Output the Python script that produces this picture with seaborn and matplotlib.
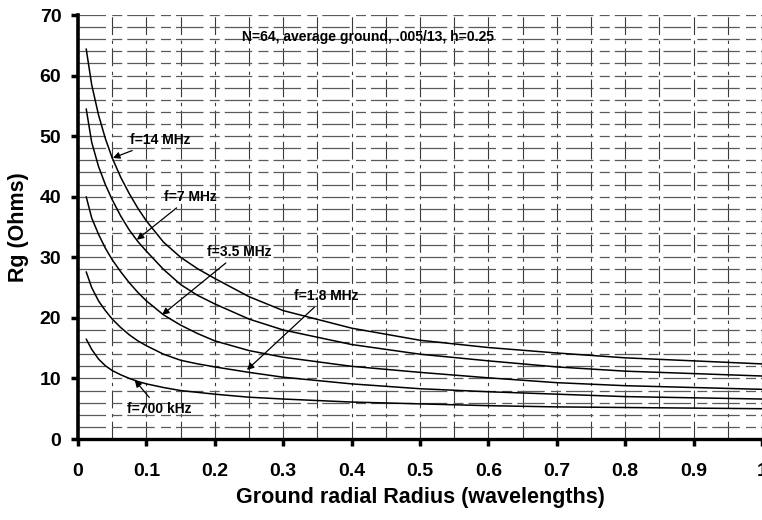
import matplotlib
matplotlib.use("Agg")
import matplotlib.pyplot as plt
import seaborn as sns
import pandas as pd
import numpy as np

# ---- data ----
radius = [0.012, 0.02, 0.03, 0.04, 0.05, 0.0625, 0.075, 0.0875, 0.1, 0.125, 0.15,
          0.175, 0.2, 0.25, 0.3, 0.4, 0.5, 0.6, 0.7, 0.8, 0.9, 1.0]
rg_14mhz = [64.4, 58.5, 53.5, 49.6, 46.4, 43.2, 40.5, 38.1, 36.0, 32.5, 30.0,
            28.1, 26.5, 23.5, 21.2, 18.3, 16.3, 15.1, 14.2, 13.4, 12.9, 12.4]
rg_7mhz = [54.5, 49.0, 45.0, 42.0, 39.5, 36.8, 34.5, 32.6, 31.0, 28.0, 25.5,
           23.7, 22.3, 19.8, 18.0, 15.6, 14.0, 12.9, 11.9, 11.2, 10.8, 10.4]
rg_3_5mhz = [40.0, 36.5, 33.8, 31.5, 29.6, 27.6, 25.8, 24.2, 22.8, 20.5, 18.8,
             17.4, 16.2, 14.6, 13.5, 12.0, 11.0, 10.1, 9.3, 8.8, 8.5, 8.2]
rg_1_8mhz = [27.6, 25.0, 22.8, 21.2, 19.8, 18.4, 17.2, 16.2, 15.4, 14.0, 13.0,
             12.4, 11.9, 11.0, 10.2, 9.1, 8.3, 7.8, 7.4, 7.0, 6.8, 6.6]
rg_700khz = [16.5, 14.8, 13.2, 12.1, 11.3, 10.6, 10.0, 9.5, 9.1, 8.5, 8.0,
             7.7, 7.4, 6.9, 6.6, 6.1, 5.8, 5.5, 5.3, 5.2, 5.1, 5.0]

series_names = ["f=14 MHz", "f=7 MHz", "f=3.5 MHz", "f=1.8 MHz", "f=700 kHz"]
series_values = [rg_14mhz, rg_7mhz, rg_3_5mhz, rg_1_8mhz, rg_700khz]

x_ticks = [0, 0.1, 0.2, 0.3, 0.4, 0.5, 0.6, 0.7, 0.8, 0.9, 1]
x_tick_labels = ["0", "0.1", "0.2", "0.3", "0.4", "0.5", "0.6", "0.7", "0.8", "0.9", "1"]
y_ticks = [0, 10, 20, 30, 40, 50, 60, 70]

title_text = "N=64, average ground, .005/13, h=0.25"
x_label = "Ground radial Radius (wavelengths)"
y_label = "Rg (Ohms)"

# annotation arrow tips and text anchors
ann_tip_x = [0.051, 0.086, 0.123, 0.247, 0.083]
ann_tip_y = [46.4, 32.9, 20.5, 11.4, 9.7]
ann_txt_x = [0.076, 0.126, 0.189, 0.316, 0.071]
ann_txt_y = [49.4, 40.0, 30.9, 23.6, 5.0]

rows = []
for name, vals in zip(series_names, series_values):
    for xv, yv in zip(radius, vals):
        rows.append({"radius": xv, "rg": yv, "series": name})
df = pd.DataFrame(rows)

sns.set_theme(style="white")
plt.rcParams["font.family"] = ["Liberation Sans", "DejaVu Sans"]
plt.rcParams["font.weight"] = "bold"

fig = plt.figure(figsize=(7.62, 5.20), dpi=100)
ax = fig.add_axes([78 / 762, 81 / 520, 684 / 762, 424 / 520])

# scanned-look grid
for gx in np.arange(0.05, 1.0001, 0.05):
    ax.axvline(gx, color="#3a3a3a", lw=0.8, ls=(0, (16, 4, 3, 5)), zorder=0.5)
for gy in np.arange(2, 70.01, 2):
    ax.axhline(gy, color="#5a5a5a", lw=0.9, ls=(0, (22, 5, 8, 4)), zorder=0.5)

sns.lineplot(data=df, x="radius", y="rg", hue="series", ax=ax,
             palette=["black"] * 5, legend=False, lw=1.1, zorder=3)

for name, tx, ty, sx, sy in zip(series_names, ann_tip_x, ann_tip_y, ann_txt_x, ann_txt_y):
    ax.annotate(name, xy=(tx, ty), xytext=(sx, sy), fontsize=10, fontweight="bold",
                ha="left", va="center", color="black", zorder=4,
                arrowprops=dict(arrowstyle="-|>", color="black", lw=0.9,
                                shrinkA=1, shrinkB=0, mutation_scale=10))

ax.text(0.424, 66.4, title_text, fontsize=10, fontweight="bold", ha="center",
        va="center", color="black")

ax.set_xlim(0, 1)
ax.set_ylim(0, 70)
ax.set_xticks(x_ticks)
ax.set_xticklabels(x_tick_labels)
ax.set_yticks(y_ticks)
ax.tick_params(axis="x", direction="out", length=5, width=2.5, pad=12,
               labelsize=14, colors="black", bottom=True)
ax.tick_params(axis="y", direction="out", length=5, width=2.5, pad=7,
               labelsize=14, colors="black", left=True)
for lab in ax.get_xticklabels() + ax.get_yticklabels():
    lab.set_fontweight("bold")

ax.set_xlabel(x_label, fontsize=15.5, fontweight="bold", labelpad=5, color="black")
ax.set_ylabel(y_label, fontsize=15.5, fontweight="bold", labelpad=8, color="black")

for side in ["top", "right"]:
    ax.spines[side].set_visible(False)
ax.spines["left"].set_linewidth(2.6)
ax.spines["bottom"].set_linewidth(2.4)
ax.spines["left"].set_color("black")
ax.spines["bottom"].set_color("black")
ax.set_facecolor("white")

fig.savefig("out.png", dpi=100, facecolor="white")
